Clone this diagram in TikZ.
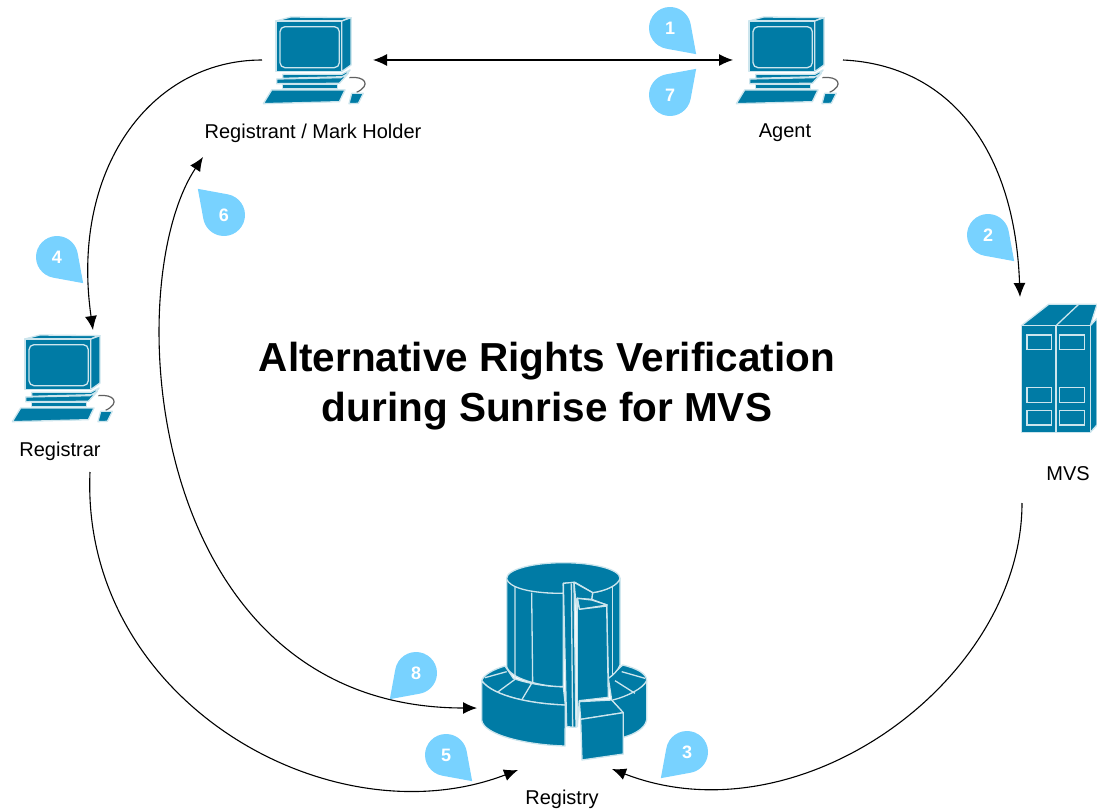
\documentclass[tikz,border=0pt]{standalone}
\usepackage{fontspec}
\setmainfont{Liberation Sans}
\usetikzlibrary{arrows.meta}
\definecolor{teal1}{HTML}{007BA5}
\definecolor{drop1}{HTML}{78D2FF}
\colorlet{lin1}{white!80!teal1}
\tikzset{
  lbl/.style={font=\fontsize{20}{24}\selectfont,text=black,inner sep=0pt,anchor=center},
  ttl/.style={font=\fontsize{40.5}{50}\selectfont\bfseries,align=center,inner sep=0pt},
  num/.style={font=\fontsize{18}{18}\selectfont\bfseries,text=white,inner sep=0pt},
  tf/.style={fill=teal1,draw=lin1,line width=1.3pt,line join=round},
  ln/.style={draw=lin1,line width=1.3pt},
  conn/.style={black,line width=1.1pt,-{Latex[length=14pt,width=12pt]}},
  conn2/.style={black,line width=1.1pt,{Latex[length=14pt,width=12pt]}-{Latex[length=14pt,width=12pt]}}
}
\newcommand{\compicon}[2]{%
\begin{scope}[shift={(#1,#2)},scale=1/3]
  \fill[tf] (78,48)--(122,36)--(303,38)--(275,48)--cycle;
  \fill[tf] (275,48)--(303,38)--(303,180)--(275,200)--cycle;
  \fill[tf] (78,48) rectangle (275,200);
  \draw[ln,rounded corners=5pt] (90,65) rectangle (268,188);
  \draw[gray!75!black,line width=1.2pt] (298,218) .. controls (345,212) and (365,240) .. (320,262);
  \fill[tf] (98,208)--(275,208)--(300,195)--(285,215)--(98,220)--cycle;
  \fill[tf] (80,222)--(272,218)--(295,205)--(268,235)--(80,236)--cycle;
  \fill[tf] (98,238)--(262,238)--(262,250)--(98,250)--cycle;
  \fill[tf] (65,255)--(285,255)--(268,290)--(40,296)--cycle;
  \fill[tf] (305,265)--(340,265)--(325,295)--(297,296)--cycle;
\end{scope}}
\newcommand{\dropmark}[5]{% name cx cy angle text
  \begin{scope}[shift={(#2,#3)}]
    \fill[drop1,rotate=#4] (55:21) arc[start angle=55,end angle=305,radius=21] -- (0:37) -- cycle;
    \node[num] (#1) at (0,0) {#5};
  \end{scope}}
\begin{document}
\begin{tikzpicture}[x=1pt,y=-1pt]
\useasboundingbox (0,0) rectangle (1097,810);
\fill[white] (0,0) rectangle (1097,810);

% computers
\compicon{250}{5}
\compicon{723}{5}
\compicon{-1}{323}

% MVS
\begin{scope}[shift={(1007,295)},scale=1/3]
  \fill[tf] (43,92)--(125,28)--(270,28)--(250,92)--cycle;
  \draw[ln] (147,92)--(215,28);
  \fill[tf] (250,92)--(270,70)--(270,390)--(250,412)--cycle;
  \fill[tf] (43,92) rectangle (147,412);
  \fill[tf] (147,92) rectangle (250,412);
  \foreach \xa/\xb in {60/133,158/232}
    \foreach \ya/\yb in {120/163,278/322,347/390}
      \draw[ln] (\xa,\ya) rectangle (\xb,\yb);
\end{scope}

% Registry
\begin{scope}[shift={(460,550)},scale=1/3]
  % base right
  \fill[tf] (445,385) -- (488,345) .. controls (530,355) and (560,370) .. (560,392)
     -- (560,510) .. controls (555,535) and (525,552) .. (490,562) -- (490,490) -- (455,450) -- cycle;
  \draw[ln] (560,392) .. controls (550,415) and (500,440) .. (458,450);
  \draw[ln] (485,365)--(555,385) (465,392)--(525,430);
  % base left
  \fill[tf] (65,392) .. controls (70,375) and (100,358) .. (135,348) -- (160,385)
     .. controls (200,400) and (260,410) .. (310,410) -- (316,465)
     .. controls (220,462) and (100,440) .. (65,392) -- cycle;
  \draw[ln] (75,383)--(140,365) (108,430)--(165,388) (185,450)--(215,400);
  \fill[tf] (65,392) .. controls (100,440) and (220,462) .. (316,465) -- (315,588)
     .. controls (200,585) and (70,555) .. (65,510) -- cycle;
  % tower
  \fill[tf] (140,85) -- (140,350) .. controls (150,385) and (240,410) .. (310,410) -- (310,130)
     .. controls (240,130) and (160,115) .. (140,85) -- cycle;
  \draw[ln] (165,110)--(165,385) (215,128)--(218,400);
  \fill[tf] (398,128) .. controls (440,122) and (470,105) .. (480,85) -- (480,345)
     .. controls (475,360) and (460,375) .. (445,385) -- (440,165) -- (395,148) -- cycle;
  \draw[ln] (458,108)--(458,375);
  \fill[tf] (310,130) .. controls (160,130) and (140,95) .. (140,85)
     .. controls (140,58) and (220,38) .. (310,38)
     .. controls (400,38) and (480,58) .. (480,85)
     .. controls (475,105) and (440,122) .. (398,128) -- (345,97) -- (310,100) -- cycle;
  % centre slab
  \fill[tf] (310,100)--(342,97)--(348,532)--(320,530)--cycle;
  \draw[ln] (334,100)--(338,532);
  \fill[tf] (342,97)--(398,128)--(395,148)--(352,145)--(350,180)--cycle;
  % door
  \fill[tf] (352,145)--(395,150)--(442,165)--(358,178)--cycle;
  \fill[tf] (358,178)--(440,168)--(445,442)--(358,452)--(352,530)--(352,145)--cycle;
  % box
  \fill[tf] (358,455)--(455,450)--(490,488)--(362,508)--cycle;
  \fill[tf] (362,508)--(490,488)--(490,612)--(366,630)--cycle;
\end{scope}

% labels
\node[lbl] (registrant) at (313,133) {Registrant / Mark Holder};
\node[lbl] (agent) at (785,133) {Agent};
\node[lbl] (registrar) at (60,451) {Registrar};
\node[lbl] (mvs) at (1068,474) {MVS};
\node[lbl] (registry) at (562,799) {Registry};
\node[ttl] (title) at (547,386) {Alternative Rights Verification\\during Sunrise for MVS};

% connector ends
\coordinate (aL) at (373,60);
\coordinate (aR) at (733,60);
\coordinate (rgOut) at (262,60);
\coordinate (rrIn) at (93,330);
\coordinate (agOut) at (843,60);
\coordinate (mvIn) at (1020,297);
\coordinate (mvOut) at (1022,503);
\coordinate (ryInR) at (612,769);
\coordinate (rrOut) at (90,472);
\coordinate (ryInL) at (518,770);
\coordinate (rgIn) at (203,157);
\coordinate (ryInM) at (477,708);

% connectors
\draw[conn2] (aL) -- (aR);
\draw[conn] (rgOut) .. controls (150,60) and (70,170) .. (rrIn);
\draw[conn] (agOut) .. controls (950,65) and (1015,150) .. (mvIn);
\draw[conn] (mvOut) .. controls (1022,680) and (800,842) .. (ryInR);
\draw[conn] (rrOut) .. controls (80,700) and (330,842) .. (ryInL);
\draw[conn2] (rgIn) .. controls (118,285) and (145,708) .. (ryInM);

% droplets
\dropmark{d1}{670}{28}{-45}{1}
\dropmark{d7}{670}{95}{45}{7}
\dropmark{d2}{988}{235}{-45}{2}
\dropmark{d4}{57}{257}{-45}{4}
\dropmark{d6}{224}{215}{135}{6}
\dropmark{d8}{416}{673}{-135}{8}
\dropmark{d5}{446}{755}{-45}{5}
\dropmark{d3}{687}{752}{-135}{3}
\end{tikzpicture}
\end{document}
